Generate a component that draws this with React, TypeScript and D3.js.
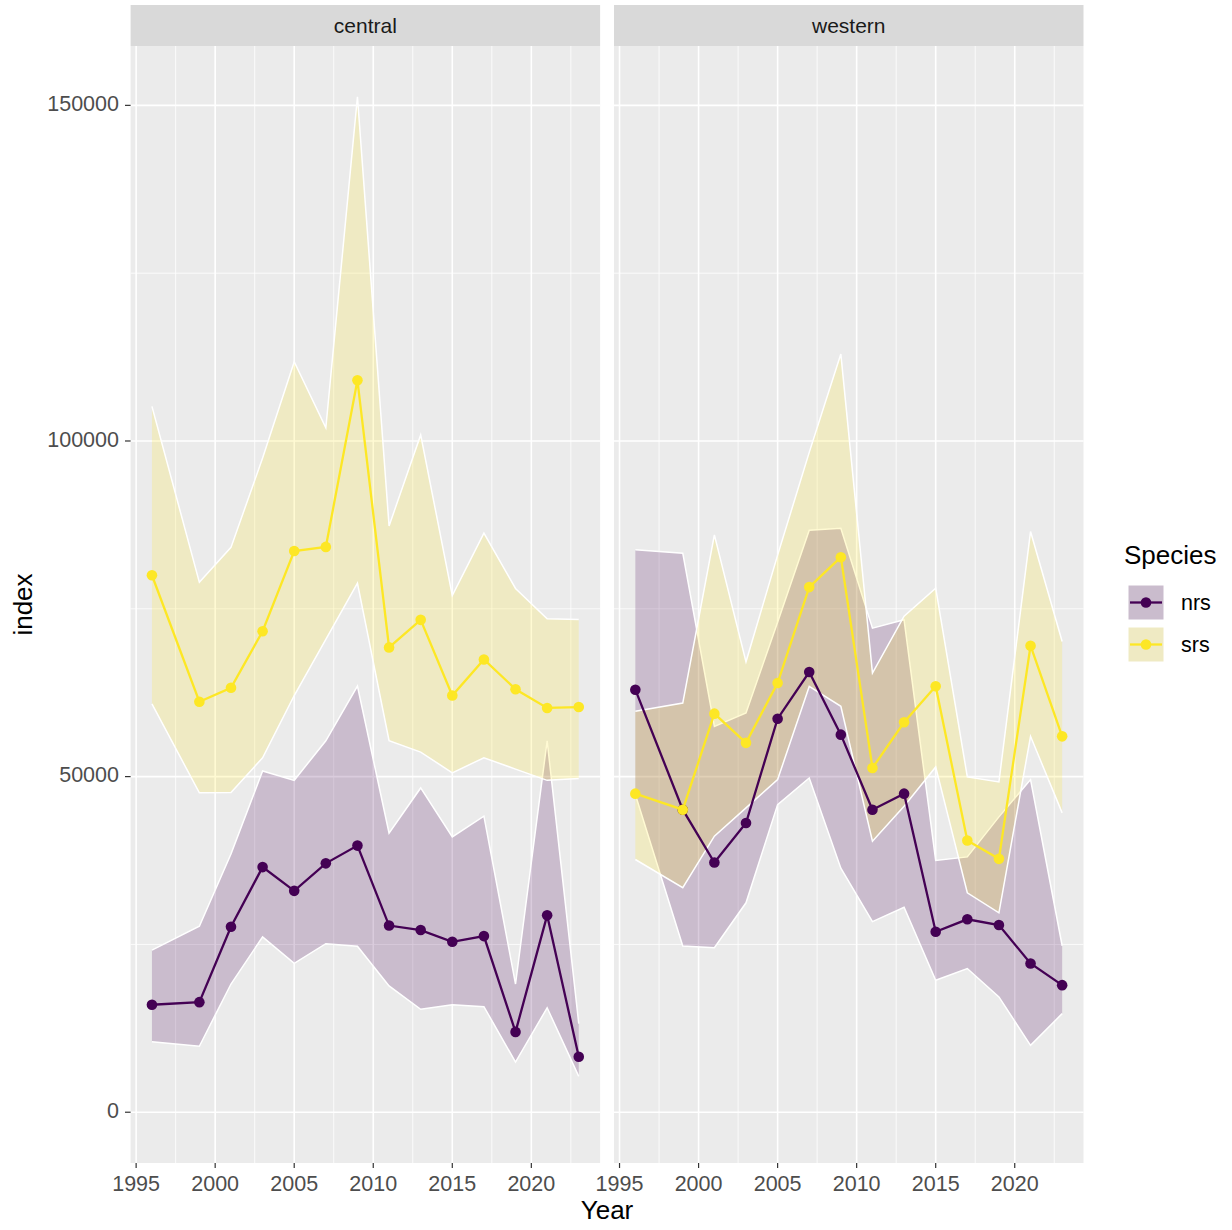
import React from "react";
import * as d3 from "d3";

// survey years
const years = [1996, 1999, 2001, 2003, 2005, 2007, 2009, 2011, 2013, 2015, 2017, 2019, 2021, 2023];

// central
const centralNrsMean = [16010, 16400, 27640, 36520, 32980, 37080, 39720, 27810, 27140, 25390, 26240, 11970, 29330, 8260];
const centralNrsLower = [10500, 9830, 19100, 26120, 22190, 25110, 24720, 18820, 15340, 16010, 15730, 7470, 15560, 5340];
const centralNrsUpper = [24160, 27700, 38480, 50840, 49440, 55340, 63480, 41570, 48310, 41010, 44100, 19100, 55340, 13200];
const centralSrsMean = [80000, 61150, 63240, 71650, 83600, 84220, 109040, 69250, 73350, 62080, 67450, 63020, 60230, 60360];
const centralSrsLower = [60840, 47580, 47640, 52800, 62080, 70430, 78830, 55340, 53650, 50560, 52810, 51120, 49440, 49720];
const centralSrsUpper = [105160, 78940, 84150, 97450, 111810, 101970, 151280, 87340, 100900, 76970, 86280, 78030, 73510, 73400];

// western
const westernNrsMean = [62950, 45070, 37200, 43080, 58630, 65580, 56250, 45070, 47460, 26890, 28740, 27890, 22160, 18930];
const westernNrsLower = [47320, 24750, 24500, 31200, 45830, 49800, 36350, 28390, 30530, 19670, 21410, 17180, 9960, 14690];
const westernNrsUpper = [83780, 83280, 57490, 59470, 73000, 86700, 87000, 72120, 73360, 37500, 38040, 44000, 49550, 24800];
const westernSrsMean = [47460, 45070, 59380, 55030, 63940, 78230, 82690, 51290, 58090, 63450, 40490, 37750, 69500, 56000];
const westernSrsLower = [37650, 33440, 41120, 45340, 49560, 63440, 60470, 40380, 45590, 51440, 32690, 29710, 56000, 44600];
const westernSrsUpper = [59720, 60960, 86010, 67100, 83000, 98300, 112950, 65430, 73900, 78080, 49960, 49200, 86510, 70140];

const species = ["nrs", "srs"];
const speciesColors = ["#440154", "#FDE725"];
const xTicks = [1995, 2000, 2005, 2010, 2015, 2020];
const yTicks = [0, 50000, 100000, 150000];

type Row = { year: number; mean: number; lower: number; upper: number };

const toRows = (mean: number[], lower: number[], upper: number[]): Row[] =>
  years.map((year, i) => ({ year, mean: mean[i], lower: lower[i], upper: upper[i] }));

const panels = [
  {
    name: "central",
    left: 130.6,
    series: [
      toRows(centralNrsMean, centralNrsLower, centralNrsUpper),
      toRows(centralSrsMean, centralSrsLower, centralSrsUpper),
    ],
  },
  {
    name: "western",
    left: 614,
    series: [
      toRows(westernNrsMean, westernNrsLower, westernNrsUpper),
      toRows(westernSrsMean, westernSrsLower, westernSrsUpper),
    ],
  },
];

const panelWidth = 469.5;
const panelTop = 46;
const panelBottom = 1163;
const font = "'Liberation Sans', Arial, sans-serif";

export default function App() {
  const [x0, x1] = d3.extent(years) as [number, number];
  const xPad = (x1 - x0) * 0.05;
  const yMax = d3.max([...centralSrsUpper, ...westernSrsUpper, ...centralNrsUpper, ...westernNrsUpper]) || 0;
  const yPad = yMax * 0.05;

  const y = d3.scaleLinear().domain([-yPad, yMax + yPad]).range([panelBottom, panelTop]);
  const yMinor = [25000, 75000, 125000];

  return (
    <svg
      width={1232}
      height={1230}
      style={{ position: "absolute", left: 0, top: 0, background: "#fff" }}
      fontFamily={font}
    >
      {panels.map((p) => {
        const x = d3
          .scaleLinear()
          .domain([x0 - xPad, x1 + xPad])
          .range([p.left, p.left + panelWidth]);
        const xMinor = xTicks.map((t) => t + 2.5).filter((t) => t < x1 + xPad);

        const area = d3
          .area<Row>()
          .x((d) => x(d.year))
          .y0((d) => y(d.lower))
          .y1((d) => y(d.upper));
        const upperLine = d3.line<Row>().x((d) => x(d.year)).y((d) => y(d.upper));
        const lowerLine = d3.line<Row>().x((d) => x(d.year)).y((d) => y(d.lower));
        const meanLine = d3.line<Row>().x((d) => x(d.year)).y((d) => y(d.mean));

        return (
          <g key={p.name}>
            {/* strip */}
            <rect x={p.left} y={5} width={panelWidth} height={panelTop - 5} fill="#d9d9d9" />
            <text
              x={p.left + panelWidth / 2}
              y={27}
              textAnchor="middle"
              dominantBaseline="middle"
              fontSize={21}
              fill="#1a1a1a"
            >
              {p.name}
            </text>

            {/* panel */}
            <rect x={p.left} y={panelTop} width={panelWidth} height={panelBottom - panelTop} fill="#ebebeb" />
            {yMinor.map((t) => (
              <line key={"ym" + t} x1={p.left} x2={p.left + panelWidth} y1={y(t)} y2={y(t)} stroke="#fff" strokeWidth={0.8} />
            ))}
            {xMinor.map((t) => (
              <line key={"xm" + t} x1={x(t)} x2={x(t)} y1={panelTop} y2={panelBottom} stroke="#fff" strokeWidth={0.8} />
            ))}
            {yTicks.map((t) => (
              <line key={"y" + t} x1={p.left} x2={p.left + panelWidth} y1={y(t)} y2={y(t)} stroke="#fff" strokeWidth={1.6} />
            ))}
            {xTicks.map((t) => (
              <line key={"x" + t} x1={x(t)} x2={x(t)} y1={panelTop} y2={panelBottom} stroke="#fff" strokeWidth={1.6} />
            ))}

            {/* ribbons */}
            {p.series.map((rows, i) => (
              <g key={"rib" + i}>
                <path d={area(rows) || ""} fill={speciesColors[i]} fillOpacity={0.2} />
                <path d={upperLine(rows) || ""} fill="none" stroke="#fff" strokeWidth={1.5} />
                <path d={lowerLine(rows) || ""} fill="none" stroke="#fff" strokeWidth={1.5} />
              </g>
            ))}

            {/* means */}
            {p.series.map((rows, i) => (
              <g key={"mean" + i}>
                <path d={meanLine(rows) || ""} fill="none" stroke={speciesColors[i]} strokeWidth={2.3} />
                {rows.map((d) => (
                  <circle key={d.year} cx={x(d.year)} cy={y(d.mean)} r={5.3} fill={speciesColors[i]} />
                ))}
              </g>
            ))}

            {/* x axis */}
            {xTicks.map((t) => (
              <g key={"xt" + t}>
                <line x1={x(t)} x2={x(t)} y1={panelBottom} y2={panelBottom + 5} stroke="#333" strokeWidth={1.2} />
                <text x={x(t)} y={panelBottom + 22} textAnchor="middle" dominantBaseline="middle" fontSize={21.5} fill="#4d4d4d">
                  {t}
                </text>
              </g>
            ))}
          </g>
        );
      })}

      {/* y axis */}
      {yTicks.map((t) => (
        <g key={"yt" + t}>
          <line x1={125} x2={130.6} y1={y(t)} y2={y(t)} stroke="#333" strokeWidth={1.2} />
          <text x={119} y={y(t)} textAnchor="end" dominantBaseline="middle" fontSize={21.5} fill="#4d4d4d">
            {t}
          </text>
        </g>
      ))}

      {/* axis titles */}
      <text x={607} y={1212} textAnchor="middle" dominantBaseline="middle" fontSize={26} fill="#000">
        Year
      </text>
      <text
        transform={`translate(25, ${(panelTop + panelBottom) / 2}) rotate(-90)`}
        textAnchor="middle"
        dominantBaseline="middle"
        fontSize={26}
        fill="#000"
      >
        index
      </text>

      {/* legend */}
      <text x={1124} y={557} dominantBaseline="middle" fontSize={26} fill="#000">
        Species
      </text>
      {species.map((s, i) => {
        const top = 585 + i * 42;
        return (
          <g key={s}>
            <rect x={1128} y={top} width={36} height={35} fill="#ebebeb" />
            <rect x={1128} y={top} width={36} height={35} fill={speciesColors[i]} fillOpacity={0.2} stroke="#fff" strokeWidth={1} />
            <line x1={1130} x2={1162} y1={top + 17.5} y2={top + 17.5} stroke={speciesColors[i]} strokeWidth={2.3} />
            <circle cx={1146} cy={top + 17.5} r={5.3} fill={speciesColors[i]} />
            <text x={1181} y={top + 19} dominantBaseline="middle" fontSize={21.5} fill="#000">
              {s}
            </text>
          </g>
        );
      })}
    </svg>
  );
}
